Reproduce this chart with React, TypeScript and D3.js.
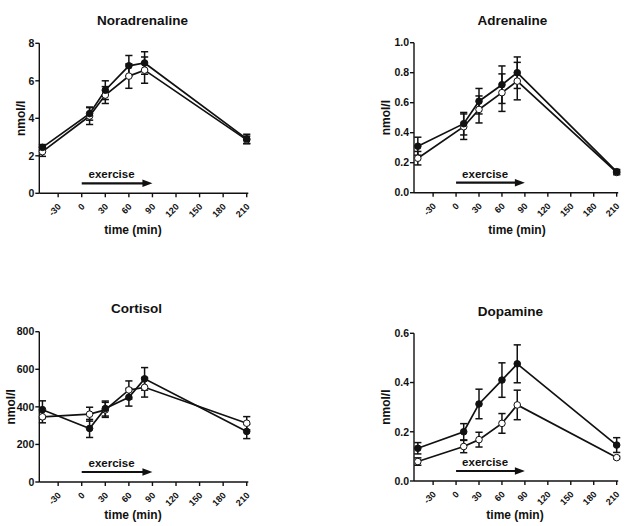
import React from 'react';
import * as d3 from 'd3';

// ---- data ----
const times = [-50, 10, 30, 60, 80, 210];
const xTicks = [-30, 0, 30, 60, 90, 120, 150, 180, 210];
const exerciseStart = 0;
const exerciseEnd = 90;
const exerciseLabelTime = 38;

const noraFilled = [2.45, 4.25, 5.5, 6.8, 6.95, 2.9];
const noraFilledErr = [0.15, 0.35, 0.5, 0.55, 0.6, 0.25];
const noraOpen = [2.22, 4.12, 5.24, 6.25, 6.57, 2.85];
const noraOpenErr = [0.25, 0.45, 0.45, 0.65, 0.7, 0.2];

const adrFilled = [0.31, 0.46, 0.61, 0.72, 0.8, 0.14];
const adrFilledErr = [0.06, 0.075, 0.085, 0.125, 0.105, 0.015];
const adrOpen = [0.23, 0.44, 0.555, 0.667, 0.744, 0.135];
const adrOpenErr = [0.045, 0.085, 0.09, 0.125, 0.125, 0.015];

const cortFilled = [385, 285, 391, 451, 549, 269];
const cortFilledErr = [47, 48, 40, 47, 60, 38];
const cortOpen = [347, 361, 384, 490, 504, 313];
const cortOpenErr = [32, 37, 40, 48, 52, 35];

const dopaFilled = [0.133, 0.2, 0.313, 0.41, 0.476, 0.146];
const dopaFilledErr = [0.023, 0.033, 0.06, 0.07, 0.077, 0.03];
const dopaOpen = [0.079, 0.14, 0.168, 0.234, 0.309, 0.095];
const dopaOpenErr = [0.015, 0.025, 0.03, 0.04, 0.06, 0.005];

const noraYTicks = [0, 2, 4, 6, 8];
const adrYTicks = [0, 0.2, 0.4, 0.6, 0.8, 1.0];
const cortYTicks = [0, 200, 400, 600, 800];
const dopaYTicks = [0, 0.2, 0.4, 0.6];

const titles = ['Noradrenaline', 'Adrenaline', 'Cortisol', 'Dopamine'];
const yLabel = 'nmol/l';
const xLabel = 'time (min)';
const exerciseLabel = 'exercise';

type PanelDef = {
  title: string;
  filled: number[]; filledErr: number[];
  open: number[]; openErr: number[];
  yTicks: number[]; fmt: (v: number) => string;
  xDomain: [number, number]; xRange: [number, number]; yRange: [number, number];
  titlePos: [number, number]; xLabelPos: [number, number]; yLabelX: number;
};

const fmtInt = d3.format('d');
const fmt1 = d3.format('.1f');

const panels: PanelDef[] = [
  {
    title: titles[0], filled: noraFilled, filledErr: noraFilledErr, open: noraOpen, openErr: noraOpenErr,
    yTicks: noraYTicks, fmt: fmtInt,
    xDomain: [-54, 212], xRange: [39.3, 248.3], yRange: [193.3, 43.3],
    titlePos: [142.5, 25], xLabelPos: [133, 234], yLabelX: 25,
  },
  {
    title: titles[1], filled: adrFilled, filledErr: adrFilledErr, open: adrOpen, openErr: adrOpenErr,
    yTicks: adrYTicks, fmt: fmt1,
    xDomain: [-55, 212], xRange: [414, 618.2], yRange: [192.7, 42.7],
    titlePos: [512.5, 24.5], xLabelPos: [517, 234], yLabelX: 390,
  },
  {
    title: titles[2], filled: cortFilled, filledErr: cortFilledErr, open: cortOpen, openErr: cortOpenErr,
    yTicks: cortYTicks, fmt: fmtInt,
    xDomain: [-54, 212], xRange: [39.3, 248.3], yRange: [482, 331.7],
    titlePos: [136.5, 312.5], xLabelPos: [133, 519], yLabelX: 15,
  },
  {
    title: titles[3], filled: dopaFilled, filledErr: dopaFilledErr, open: dopaOpen, openErr: dopaOpenErr,
    yTicks: dopaYTicks, fmt: fmt1,
    xDomain: [-55, 212], xRange: [414, 618.2], yRange: [481, 333.3],
    titlePos: [510.5, 316], xLabelPos: [515, 519], yLabelX: 390,
  },
];

const FONT = '"Liberation Sans", Arial, Helvetica, sans-serif';

function Panel({ p }: { p: PanelDef }) {
  const x = d3.scaleLinear().domain(p.xDomain).range(p.xRange);
  const yMax = p.yTicks[p.yTicks.length - 1];
  const y = d3.scaleLinear().domain([0, yMax]).range(p.yRange);
  const line = d3.line<number>().x((_, i) => x(times[i])).y((v) => y(v));
  const axisY = p.yRange[0];
  const axisX = p.xRange[0];
  const cap = 3.6;

  const errBars = (vals: number[], errs: number[]) =>
    vals.map((v, i) => {
      const cx = x(times[i]);
      const y1 = y(v + errs[i]);
      const y2 = y(v - errs[i]);
      return (
        <g key={i} stroke="#111" strokeWidth={1.5}>
          <line x1={cx} x2={cx} y1={y1} y2={y2} />
          <line x1={cx - cap} x2={cx + cap} y1={y1} y2={y1} />
          <line x1={cx - cap} x2={cx + cap} y1={y2} y2={y2} />
        </g>
      );
    });

  const arrowY = axisY - 10;
  const xs = x(exerciseStart);
  const xe = x(exerciseEnd);

  return (
    <g fontFamily={FONT} fontWeight="bold" fill="#111">
      <text x={p.titlePos[0]} y={p.titlePos[1]} textAnchor="middle" fontSize={13.5}>{p.title}</text>
      {/* axes */}
      <line x1={axisX} x2={axisX} y1={p.yRange[1]} y2={axisY} stroke="#111" strokeWidth={1.4} />
      <line x1={axisX} x2={p.xRange[1]} y1={axisY} y2={axisY} stroke="#111" strokeWidth={1.4} />
      {p.yTicks.map((t) => (
        <g key={t}>
          <line x1={axisX - 4} x2={axisX} y1={y(t)} y2={y(t)} stroke="#111" strokeWidth={1.4} />
          <text x={axisX - 5} y={y(t)} dy="0.36em" textAnchor="end" fontSize={10.5}>{p.fmt(t)}</text>
        </g>
      ))}
      {xTicks.map((t) => (
        <g key={t}>
          <line x1={x(t)} x2={x(t)} y1={axisY} y2={axisY + 4} stroke="#111" strokeWidth={1.4} />
          <text transform={`translate(${x(t) + 3.5},${axisY + 14}) rotate(-45)`} textAnchor="end" fontSize={9}>{String(t)}</text>
        </g>
      ))}
      <text x={p.xLabelPos[0]} y={p.xLabelPos[1]} textAnchor="middle" fontSize={12}>{xLabel}</text>
      <text transform={`translate(${p.yLabelX},${(p.yRange[0] + p.yRange[1]) / 2}) rotate(-90)`} textAnchor="middle" fontSize={12}>{yLabel}</text>
      {/* exercise arrow */}
      <line x1={xs} x2={xe - 9} y1={arrowY} y2={arrowY} stroke="#111" strokeWidth={2.2} />
      <path d={`M${xe},${arrowY} L${xe - 10},${arrowY - 3.8} L${xe - 10},${arrowY + 3.8} Z`} fill="#111" />
      <text x={x(exerciseLabelTime)} y={axisY - 15} textAnchor="middle" fontSize={11.5}>{exerciseLabel}</text>
      {/* series */}
      {errBars(p.open, p.openErr)}
      {errBars(p.filled, p.filledErr)}
      <path d={line(p.open) || ''} fill="none" stroke="#111" strokeWidth={1.7} />
      <path d={line(p.filled) || ''} fill="none" stroke="#111" strokeWidth={1.7} />
      {p.open.map((v, i) => (
        <circle key={'o' + i} cx={x(times[i])} cy={y(v)} r={3.3} fill="#fff" stroke="#111" strokeWidth={1} />
      ))}
      {p.filled.map((v, i) => (
        <circle key={'f' + i} cx={x(times[i])} cy={y(v)} r={3.3} fill="#111" stroke="#111" strokeWidth={1} />
      ))}
    </g>
  );
}

export default function App() {
  return (
    <svg width={629} height={526} style={{ position: 'absolute', left: 0, top: 0, background: '#fff' }}>
      <rect width={629} height={526} fill="#fff" />
      {panels.map((p) => (
        <Panel key={p.title} p={p} />
      ))}
    </svg>
  );
}
